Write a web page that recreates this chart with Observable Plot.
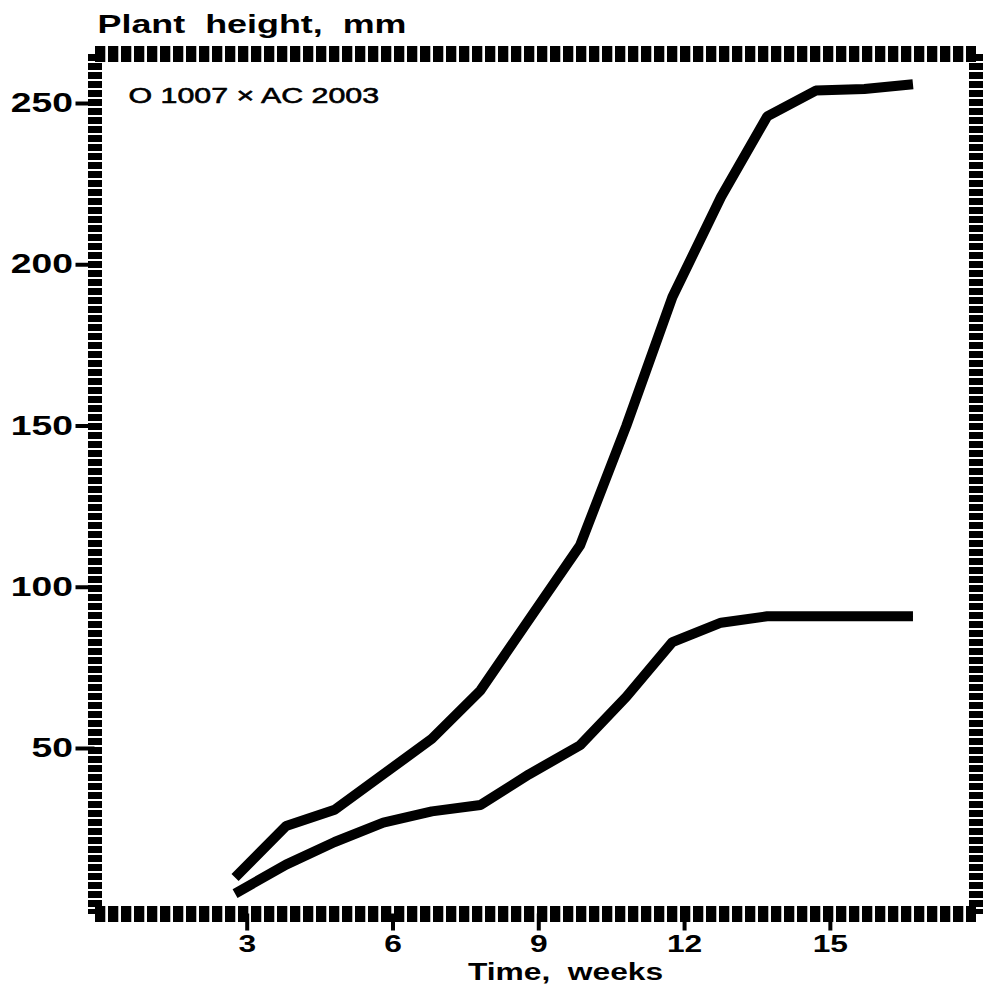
<!DOCTYPE html>
<html>
<head>
<meta charset="utf-8">
<script src="https://cdn.jsdelivr.net/npm/d3@7"></script>
<script src="https://cdn.jsdelivr.net/npm/@observablehq/plot@0.6"></script>
<style>
  body { margin: 0; background: #fff; }
  svg text { font-family: "Liberation Sans", Arial, sans-serif; }
</style>
</head>
<body>
<div id="chart"></div>
<script>
// Data
const weeks        = [2.75, 3.8, 4.8, 5.8, 6.8, 7.8, 8.8, 9.85, 10.8, 11.75, 12.75, 13.7, 14.7, 15.7, 16.7];
const upperHeight  = [10, 26, 31, 42, 53, 68, 90, 113, 150, 190, 221, 246, 254, 254.5, 256];
const lowerHeight  = [5, 14, 21, 27, 30.5, 32.5, 42, 51, 66, 83, 89, 91, 91, 91, 91];
const xTicks = [3, 6, 9, 12, 15];
const yTicks = [50, 100, 150, 200, 250];
const titleText  = "Plant\u00a0\u00a0height,\u00a0\u00a0mm";
const crossLabel = "O 1007 \u00d7 AC 2003";
const xLabelText = "Time,\u00a0\u00a0weeks";

const rows = weeks.flatMap((w, i) => [
  {week: w, height: upperHeight[i], series: "upper"},
  {week: w, height: lowerHeight[i], series: "lower"}
]);

const W = 985, H = 990;
const mL = 94.5, mR = W - 975.5, mT = 53.5, mB = H - 913.5;

const hSide = {stroke: "black", strokeWidth: 16, strokeLinecap: "butt", strokeDasharray: "10.3,2.7"};
const vSide = {stroke: "black", strokeWidth: 14, strokeLinecap: "butt", strokeDasharray: "7,2"};

const chart = Plot.plot({
  width: W,
  height: H,
  marginLeft: mL,
  marginRight: mR,
  marginTop: mT,
  marginBottom: mB,
  style: {background: "white", color: "black", fontFamily: "Liberation Sans, Arial, sans-serif"},
  x: {domain: [-0.132, 17.997]},
  y: {domain: [-1.32, 265.35]},
  marks: [
    Plot.frame({anchor: "top", ...hSide}),
    Plot.frame({anchor: "bottom", ...hSide}),
    Plot.frame({anchor: "left", ...vSide}),
    Plot.frame({anchor: "right", ...vSide}),
    Plot.line(rows, {x: "week", y: "height", z: "series", stroke: "black", strokeWidth: 10,
      strokeLinecap: "butt", strokeLinejoin: "miter"}),
    Plot.axisX({ticks: xTicks, tickSize: 17, tickPadding: 5, strokeWidth: 4, fontSize: 23,
      fontWeight: "bold", label: null, tickFormat: d => String(d)}),
    Plot.axisY({ticks: yTicks, tickSize: 19, tickPadding: 3, strokeWidth: 4, fontSize: 27,
      fontWeight: "bold", label: null, tickFormat: d => String(d)}),
    Plot.text([titleText], {text: d => d, frameAnchor: "top-left", textAnchor: "start", lineAnchor: "top",
      dx: 2.5, dy: -39, fontSize: 26, fontWeight: "bold", fill: "black"}),
    Plot.text([crossLabel], {text: d => d, frameAnchor: "top-left", textAnchor: "start", lineAnchor: "top",
      dx: 33.5, dy: 33.5, fontSize: 22, fill: "black", stroke: "black", strokeWidth: 0.6}),
    Plot.text([xLabelText], {text: d => d, frameAnchor: "bottom", textAnchor: "middle", lineAnchor: "top",
      dx: 30, dy: 49.5, fontSize: 23, fontWeight: "bold", fill: "black"})
  ]
});

document.getElementById("chart").append(chart);

// The reference lettering is horizontally stretched; widen each text about its anchor.
const S = 1.38;
chart.querySelectorAll("text").forEach(t => {
  const b = t.getBBox();
  const a = getComputedStyle(t).textAnchor;
  const ax = a === "end" ? b.x + b.width : a === "middle" ? b.x + b.width / 2 : b.x;
  const tr = t.getAttribute("transform") || "";
  t.setAttribute("transform", `${tr} translate(${ax},0) scale(${S},1) translate(${-ax},0)`);
});
</script>
</body>
</html>
